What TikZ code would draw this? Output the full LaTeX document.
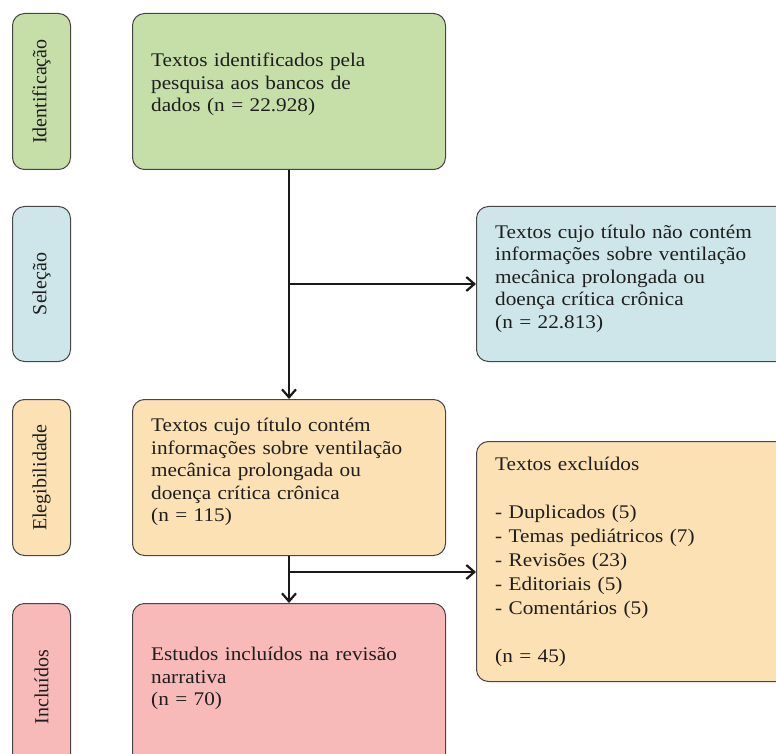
\documentclass[tikz,border=0pt]{standalone}
\usepackage{fontspec}
\setmainfont{Liberation Serif}
\newfontfamily\wideserif{Liberation Serif}[FakeStretch=1.1]
\usetikzlibrary{arrows.meta}
\definecolor{cgreen}{RGB}{198,222,168}
\definecolor{cblue}{RGB}{206,230,233}
\definecolor{corange}{RGB}{251,225,180}
\definecolor{cpink}{RGB}{248,186,184}
\definecolor{cborder}{RGB}{70,70,70}
\definecolor{ctext}{RGB}{30,30,30}
\tikzset{
  box/.style={draw=cborder, line width=1pt, rounded corners=12pt, inner sep=0pt, anchor=north west},
  sidelabel/.style={rotate=90, inner sep=0pt, text=ctext, font=\fontsize{20}{24}\selectfont},
  txt/.style={anchor=base west, inner sep=0pt, align=left, text width=330pt, text=ctext,
    font=\wideserif\fontsize{19.3}{22.5}\selectfont},
  arr/.style={draw=black!90, line width=2.2pt, -{Straight Barb[length=8pt,width=14pt]}},
  plain/.style={draw=black!90, line width=2.2pt}
}
\begin{document}
\begin{tikzpicture}[x=1pt,y=-1pt]
\useasboundingbox (0,0) rectangle (776,754);
\clip (0,0) rectangle (776,754);
% side labels
\node[box, fill=cgreen, minimum width=58pt, minimum height=156pt] (sid) at (12,13) {};
\node[box, fill=cblue, minimum width=58pt, minimum height=155pt] (ssel) at (12,206) {};
\node[box, fill=corange, minimum width=58pt, minimum height=156pt] (sele) at (12,399) {};
\node[box, fill=cpink, minimum width=58pt, minimum height=167pt] (sinc) at (12,603) {};
\node[sidelabel] (lid) at (sid.center) {Identificação};
\node[sidelabel] (lsel) at (ssel.center) {Seleção};
\node[sidelabel] (lele) at (sele.center) {Elegibilidade};
\node[sidelabel] (linc) at (sinc.center) {Incluídos};
% main boxes
\node[box, fill=cgreen, minimum width=313pt, minimum height=156pt] (green) at (132,13) {};
\node[box, fill=cblue, minimum width=320pt, minimum height=155pt] (blue) at (476,206) {};
\node[box, fill=corange, minimum width=313pt, minimum height=156pt] (ele) at (132,399) {};
\node[box, fill=corange, minimum width=320pt, minimum height=240pt] (excl) at (476,441) {};
\node[box, fill=cpink, minimum width=313pt, minimum height=167pt] (pink) at (132,603) {};
% texts
\node[txt] (tgreen) at (151,66.7) {Textos identificados pela\\pesquisa aos bancos de\\dados (n = 22.928)};
\node[txt] (tblue) at (495,238) {Textos cujo título não contém\\informações sobre ventilação\\mecânica prolongada ou\\doença crítica crônica\\(n = 22.813)};
\node[txt] (tele) at (151,431.7) {Textos cujo título contém\\informações sobre ventilação\\mecânica prolongada ou\\doença crítica crônica\\(n = 115)};
\node[txt, font=\wideserif\fontsize{19.3}{24}\selectfont] (texcl) at (495,470) {Textos excluídos\\[24pt]- Duplicados (5)\\- Temas pediátricos (7)\\- Revisões (23)\\- Editoriais (5)\\- Comentários (5)\\[24pt](n = 45)};
\node[txt] (tpink) at (151,660.7) {Estudos incluídos na revisão\\narrativa\\(n = 70)};
% connectors
\coordinate (j2) at (288.5,572);
\draw[arr] (green.south) -- (ele.north);
\draw[arr] (green.south |- blue.west) -- (blue.west);
\draw[arr] (ele.south) -- (pink.north);
\draw[arr] (j2) -- (j2 -| excl.west);
\end{tikzpicture}
\end{document}
